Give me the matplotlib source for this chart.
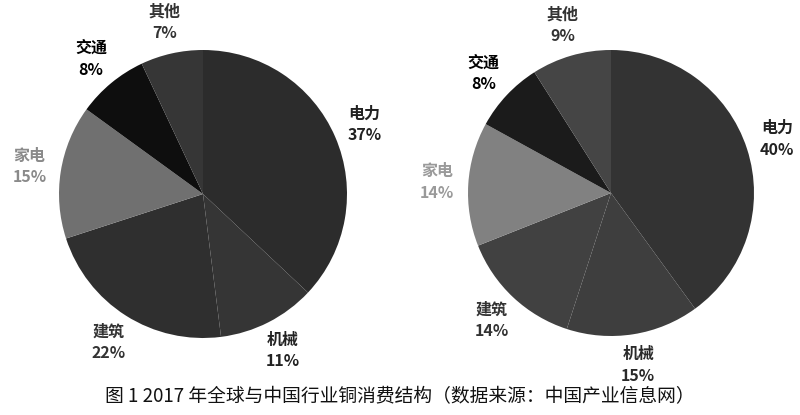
import matplotlib
matplotlib.use('Agg')
import matplotlib.pyplot as plt

plt.rcParams['font.family'] = ['Noto Sans CJK SC', 'DejaVu Sans']

sectors = ['电力', '机械', '建筑', '家电', '交通', '其他']
world_share = [37, 11, 22, 15, 8, 7]
china_share = [40, 15, 14, 14, 8, 9]

world_colors = ['#2c2c2c', '#353535', '#2f2f2f', '#707070', '#0e0e0e', '#363636']
china_colors = ['#333333', '#3e3e3e', '#414141', '#818181', '#1b1b1b', '#454545']
world_text = ['#222222', '#222222', '#333333', '#8a8a8a', '#000000', '#333333']
china_text = ['#222222', '#2a2a2a', '#333333', '#9a9a9a', '#000000', '#333333']

W, H = 800, 415


def draw_pie(fig, cx, cy, r, values, colors, text_colors):
    # cx, cy, r in pixels, y measured from the top
    ax = fig.add_axes([(cx - r) / W, (H - cy - r) / H, 2 * r / W, 2 * r / H])
    labels = ['%s\n%d%%' % (s, v) for s, v in zip(sectors, values)]
    wedges, texts = ax.pie(values, colors=colors, startangle=90, counterclock=False,
                           labels=labels, labeldistance=1.22,
                           wedgeprops={'linewidth': 0},
                           textprops={'fontsize': 11.5, 'fontweight': 'bold',
                                      'linespacing': 1.45})
    for t, c in zip(texts, text_colors):
        t.set_color(c)
        t.set_horizontalalignment('center')
    ax.set_xlim(-1, 1)
    ax.set_ylim(-1, 1)
    ax.axis('off')
    return ax


fig = plt.figure(figsize=(8, 4.15), dpi=100)
fig.patch.set_facecolor('white')

draw_pie(fig, 203, 194, 144, world_share, world_colors, world_text)
draw_pie(fig, 611, 193, 143, china_share, china_colors, china_text)

fig.text(0.5, (H - 397) / H, '图 1 2017 年全球与中国行业铜消费结构（数据来源：中国产业信息网）',
         ha='center', va='center', fontsize=13.5, color='#111111')

fig.savefig('out.png', dpi=100, facecolor='white')
